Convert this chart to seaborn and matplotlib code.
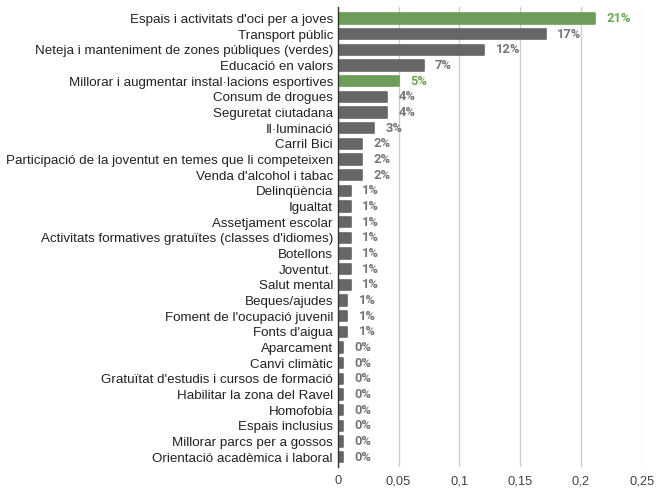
import seaborn as sns
import matplotlib.pyplot as plt
import pandas as pd
from matplotlib.ticker import FuncFormatter

categories = [
    "Espais i activitats d'oci per a joves",
    "Transport públic",
    "Neteja i manteniment de zones públiques (verdes)",
    "Educació en valors",
    "Millorar i augmentar instal·lacions esportives",
    "Consum de drogues",
    "Seguretat ciutadana",
    "Il·luminació",
    "Carril Bici",
    "Participació de la joventut en temes que li competeixen",
    "Venda d'alcohol i tabac",
    "Delinqüència",
    "Igualtat",
    "Assetjament escolar",
    "Activitats formatives gratuïtes (classes d'idiomes)",
    "Botellons",
    "Joventut.",
    "Salut mental",
    "Beques/ajudes",
    "Foment de l'ocupació juvenil",
    "Fonts d'aigua",
    "Aparcament",
    "Canvi climàtic",
    "Gratuïtat d'estudis i cursos de formació",
    "Habilitar la zona del Ravel",
    "Homofobia",
    "Espais inclusius",
    "Millorar parcs per a gossos",
    "Orientació acadèmica i laboral",
]
values = [0.2115, 0.171, 0.1205, 0.0705, 0.0502, 0.0405, 0.0405, 0.030,
          0.0202, 0.0202, 0.0202, 0.0105, 0.0105, 0.0105, 0.0105, 0.0105,
          0.0105, 0.0105, 0.0077, 0.0077, 0.0077, 0.0039, 0.0039, 0.0039,
          0.0039, 0.0039, 0.0039, 0.0039, 0.0039]
labels = ["21%", "17%", "12%", "7%", "5%", "4%", "4%", "3%", "2%", "2%", "2%",
          "1%", "1%", "1%", "1%", "1%", "1%", "1%", "1%", "1%", "1%",
          "0%", "0%", "0%", "0%", "0%", "0%", "0%", "0%"]
highlight = ["Espais i activitats d'oci per a joves",
             "Millorar i augmentar instal·lacions esportives"]

green = "#6aa84f"
grey = "#666666"

df = pd.DataFrame({"tema": categories, "valor": values, "etiqueta": labels})
df["grup"] = ["g" if c in highlight else "d" for c in categories]

sns.set_style("white")
plt.rcParams["font.family"] = ["Liberation Sans", "DejaVu Sans"]

fig = plt.figure(figsize=(6.61, 4.88), dpi=100)
ax = fig.add_axes([0.511, 0.043, 0.46, 0.943])

sns.barplot(data=df, y="tema", x="valor", hue="grup",
            palette={"g": green, "d": grey}, dodge=False, legend=False,
            width=0.66, ax=ax, orient="h")

# rounded look
for p in ax.patches:
    p.set_edgecolor(p.get_facecolor())
    p.set_linewidth(1.2)
    p.set_joinstyle("round")

for i, row in df.iterrows():
    col = green if row["grup"] == "g" else "#757575"
    ax.text(row["valor"] + 0.0095, i, row["etiqueta"], va="center", ha="left",
            fontsize=9.3, fontweight="bold", color=col, family="Roboto")

ax.set_xlim(0, 0.25)
ax.set_ylim(28.62, -0.75)
ax.set_xticks([0, 0.05, 0.1, 0.15, 0.2, 0.25])
ax.xaxis.set_major_formatter(FuncFormatter(lambda v, _: ("%g" % round(v, 2)).replace(".", ",")))
ax.grid(axis="x", color="#cccccc", linewidth=1)
ax.set_axisbelow(True)
for s in ["top", "right", "bottom"]:
    ax.spines[s].set_visible(False)
ax.spines["left"].set_color("#333333")
ax.spines["left"].set_linewidth(1)
ax.set_xlabel("")
ax.set_ylabel("")
ax.tick_params(axis="y", length=0, pad=3.5, labelsize=9.6, labelcolor="#222222")
ax.tick_params(axis="x", length=0, pad=6, labelsize=9.3, labelcolor="#444444")

fig.savefig("out.png", dpi=100)
